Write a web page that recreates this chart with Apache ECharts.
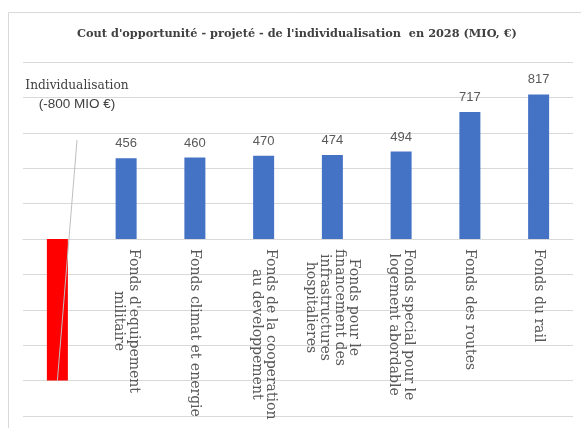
<!DOCTYPE html>
<html><head><meta charset="utf-8">
<script src="https://cdn.jsdelivr.net/npm/echarts@6/dist/echarts.min.js"></script>
<style>html,body{margin:0;padding:0;background:#fff}#c{width:581px;height:428px}</style>
</head><body><div id="c"></div>
<script>
const titleText = "Cout d'opportunité - projeté - de l'individualisation  en 2028 (MIO, €)";
const categories = [
  "Individualisation",
  "Fonds d'equipement\nmilitaire",
  "Fonds climat et energie",
  "Fonds de la cooperation\nau developpement",
  "Fonds pour le\nfinancement des\ninfrastructures\nhospitalieres",
  "Fonds special pour le\nlogement abordable",
  "Fonds des routes",
  "Fonds du rail"
];
const values = [-800, 456, 460, 470, 474, 494, 717, 817];
const barColors = ["#ff0000", "#4472c4", "#4472c4", "#4472c4", "#4472c4", "#4472c4", "#4472c4", "#4472c4"];
const firstLabel = ["Individualisation", "(-800 MIO €)"];
const yTicks = { min: -1000, max: 1000, interval: 200 };

const chart = echarts.init(document.getElementById('c'), null, { renderer: 'canvas' });
const serif = "'DejaVu Serif', serif";
const sans = "'Liberation Sans', Arial, sans-serif";
const labelPos = { x: 77, y: 95 };

const base = {
  animation: false,
  backgroundColor: '#fff',
  title: {
    text: titleText, left: 292, top: 24, textAlign: 'center',
    textStyle: { fontFamily: serif, fontWeight: 'bold', fontSize: 11.3, color: '#404040' }
  },
  grid: { left: 23, right: 8, top: 62, bottom: 12, containLabel: false, outerBoundsMode: 'none' },
  xAxis: {
    type: 'category', data: categories, position: 'bottom', offset: 0,
    axisLine: { onZero: false, lineStyle: { color: '#d9d9d9' } },
    axisTick: { show: false },
    axisLabel: {
      rotate: -90, margin: 10, interval: 0, hideOverlap: false,
      formatter: (v, i) => i === 0 ? '' : v.split('\n').map(l => '{c|' + l + '}').join('\n'),
      rich: { c: { align: 'center', fontFamily: serif, fontSize: 14, color: '#595959', lineHeight: 14.5 } }
    }
  },
  yAxis: {
    type: 'value', min: yTicks.min, max: yTicks.max, interval: yTicks.interval,
    axisLabel: { show: false }, axisLine: { show: false }, axisTick: { show: false },
    splitLine: { lineStyle: { color: '#d9d9d9' } }
  },
  series: [{
    type: 'bar', barWidth: 21,
    data: values.map((v, i) => ({ value: v, itemStyle: { color: barColors[i] } })),
    label: {
      show: true, position: 'top', distance: 8,
      fontFamily: sans, fontSize: 13, color: '#595959',
      formatter: p => p.dataIndex === 0 ? '{a|' + firstLabel[0] + '}\n{b|' + firstLabel[1] + '}' : String(p.value),
      rich: {
        a: { align: 'center', fontFamily: serif, fontSize: 12.2, color: '#404040', lineHeight: 18 },
        b: { align: 'center', fontFamily: sans, fontSize: 13.5, color: '#404040', lineHeight: 18 }
      }
    },
    labelLayout: p => p.dataIndex === 0 ? { x: labelPos.x, y: labelPos.y, align: 'center', verticalAlign: 'middle' } : {}
  }]
};
chart.setOption(base);

// move the category axis (with its labels) onto the zero line
const zeroY = chart.convertToPixel({ yAxisIndex: 0 }, 0);
const minY = chart.convertToPixel({ yAxisIndex: 0 }, yTicks.min);
const bottom = chart.convertToPixel({ xAxisIndex: 0, yAxisIndex: 0 }, [0, values[0]]);
chart.setOption({
  xAxis: { offset: zeroY - minY },
  graphic: [
    { type: 'rect', shape: { x: 8.5, y: 12.5, width: 700, height: 700 }, style: { fill: null, stroke: '#d9d9d9', lineWidth: 1 }, silent: true, z: -1 },
    { type: 'line', shape: { x1: labelPos.x, y1: labelPos.y + 45, x2: bottom[0], y2: bottom[1] }, style: { stroke: '#bfbfbf', lineWidth: 1 }, z: 100, silent: true }
  ]
});
</script></body></html>
